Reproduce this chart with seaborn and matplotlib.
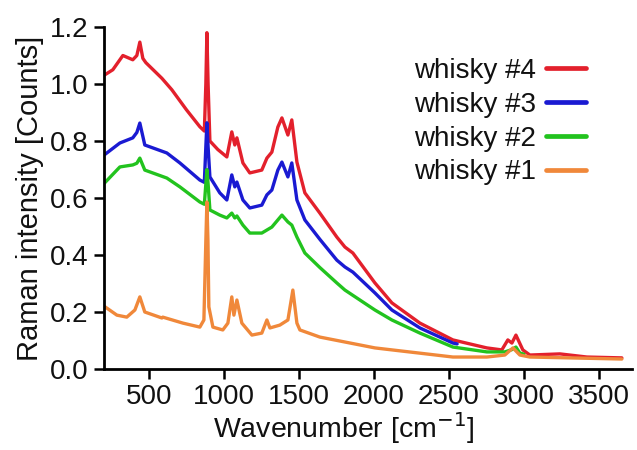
import numpy as np
import pandas as pd
import matplotlib
matplotlib.use("Agg")
import matplotlib.pyplot as plt
import seaborn as sns

# whisky #4 (red)
x4 = [200, 260, 327, 393, 420, 440, 460, 480, 587, 653, 750, 840, 870, 880, 887, 895, 907,
      960, 1020, 1053, 1073, 1087, 1127, 1173, 1253, 1287, 1320, 1360, 1387, 1427, 1453, 1487,
      1540, 1640, 1753, 1807, 1860, 2007, 2120, 2307, 2527, 2753, 2853, 2893, 2920, 2947, 2993,
      3040, 3240, 3420, 3653]
y4 = [1.03, 1.05, 1.10, 1.085, 1.10, 1.147, 1.09, 1.075, 1.02, 0.98, 0.91, 0.85, 0.835, 1.00, 1.18, 1.00, 0.80,
      0.77, 0.744, 0.832, 0.786, 0.811, 0.723, 0.688, 0.698, 0.74, 0.761, 0.849, 0.881, 0.821, 0.874, 0.726,
      0.618, 0.547, 0.463, 0.428, 0.407, 0.302, 0.232, 0.161, 0.102, 0.074, 0.067, 0.102, 0.091, 0.119, 0.067,
      0.049, 0.053, 0.042, 0.039]

# whisky #3 (blue)
x3 = [200, 307, 393, 420, 440, 473, 620, 707, 840, 870, 880, 887, 895, 907,
      973, 1020, 1053, 1073, 1087, 1127, 1173, 1253, 1287, 1320, 1360, 1387, 1427, 1453, 1487,
      1540, 1640, 1753, 1807, 1860, 2007, 2120, 2307, 2527, 2555]
y3 = [0.75, 0.793, 0.811, 0.83, 0.863, 0.786, 0.758, 0.723, 0.663, 0.655, 0.78, 0.864, 0.78, 0.674,
      0.618, 0.593, 0.681, 0.639, 0.656, 0.593, 0.565, 0.575, 0.611, 0.628, 0.698, 0.726, 0.674, 0.723, 0.593,
      0.523, 0.455, 0.382, 0.358, 0.340, 0.267, 0.207, 0.144, 0.091, 0.088]

# whisky #2 (green)
x2 = [200, 307, 393, 420, 440, 473, 620, 707, 840, 870, 880, 887, 895, 907,
      973, 1020, 1053, 1073, 1087, 1127, 1173, 1253, 1320, 1387, 1427, 1453, 1487,
      1540, 1640, 1753, 1807, 2007, 2120, 2307, 2527, 2753, 2873, 2920, 2947, 2973, 3000]
y2 = [0.65, 0.709, 0.716, 0.722, 0.740, 0.698, 0.670, 0.639, 0.586, 0.578, 0.65, 0.70, 0.65, 0.558,
      0.540, 0.530, 0.547, 0.530, 0.537, 0.505, 0.477, 0.477, 0.498, 0.540, 0.516, 0.505, 0.463,
      0.407, 0.356, 0.302, 0.277, 0.207, 0.172, 0.126, 0.077, 0.060, 0.060, 0.068, 0.077, 0.056, 0.052]

# whisky #1 (orange)
x1 = [200, 287, 353, 407, 440, 473, 587, 593, 727, 840, 867, 880, 887, 894, 900, 927,
      993, 1027, 1053, 1067, 1087, 1120, 1187, 1253, 1287, 1307, 1373, 1427, 1460, 1487, 1507,
      1640, 2007, 2527, 2753, 2873, 2927, 2973, 3040, 3653]
y1 = [0.221, 0.189, 0.182, 0.207, 0.253, 0.20, 0.179, 0.182, 0.161, 0.147, 0.172, 0.45, 0.586, 0.45, 0.218, 0.147,
      0.137, 0.161, 0.253, 0.189, 0.242, 0.161, 0.119, 0.126, 0.172, 0.144, 0.154, 0.172, 0.277, 0.161, 0.137,
      0.112, 0.074, 0.042, 0.042, 0.049, 0.074, 0.049, 0.042, 0.035]

labels = ["whisky #4", "whisky #3", "whisky #2", "whisky #1"]
colors = ["#e3202c", "#1a1ad2", "#22c31e", "#f0883a"]
xticks = [500, 1000, 1500, 2000, 2500, 3000, 3500]
yticks = [0.0, 0.2, 0.4, 0.6, 0.8, 1.0, 1.2]

sns.set_style("ticks")
plt.rcParams["font.family"] = ["Liberation Sans", "DejaVu Sans"]

fig = plt.figure(figsize=(6.37, 4.5), dpi=100)
ax = fig.add_axes([0.163, 0.18, 0.829, 0.76])

for xs, ys, lab, col in zip([x4, x3, x2, x1], [y4, y3, y2, y1], labels, colors):
    df = pd.DataFrame({"x": xs, "y": ys})
    sns.lineplot(data=df, x="x", y="y", ax=ax, color=col, lw=2.4, label=lab,
                 estimator=None, sort=False)

ax.set_xlim(200, 3720)
ax.set_ylim(0, 1.2)
ax.set_xticks(xticks)
ax.set_yticks(yticks)
ax.set_yticklabels([f"{v:.1f}" for v in yticks])
ax.tick_params(axis="both", labelsize=20, length=7, width=1.8, color="black",
               labelcolor="#111111", pad=4)
for s in ["left", "bottom"]:
    ax.spines[s].set_linewidth(2.0)
    ax.spines[s].set_color("black")
sns.despine(ax=ax)

ax.set_xlabel("Wavenumber [cm$^{-1}$]", fontsize=20.5, labelpad=1, color="#111111")
ax.xaxis.set_label_coords(0.455, -0.12)
ax.set_ylabel("Raman intensity [Counts]", fontsize=21, labelpad=4, color="#111111")

leg = ax.legend(loc="upper right", bbox_to_anchor=(586 / 637, 1 - 58 / 450),
                bbox_transform=fig.transFigure, frameon=False, markerfirst=False,
                fontsize=20, handlelength=1.45, handletextpad=0.35, labelspacing=0.28,
                borderaxespad=0, borderpad=0)
for h in leg.get_lines():
    h.set_linewidth(3.4)
for t in leg.get_texts():
    t.set_color("#111111")

fig.savefig("out.png", dpi=100)
